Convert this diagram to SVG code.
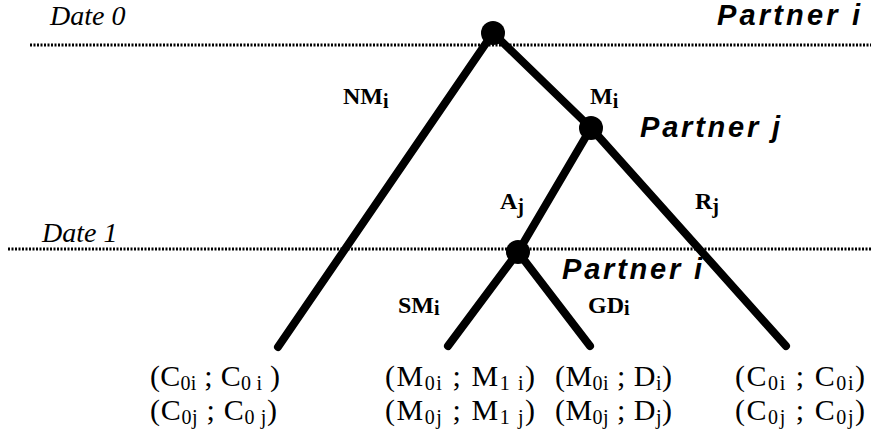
<svg xmlns="http://www.w3.org/2000/svg" width="871" height="439" viewBox="0 0 871 439">
<style>
.date{font-family:"Liberation Serif",serif;font-style:italic;font-size:28px;fill:#000}
.partner{font-family:"Liberation Sans",sans-serif;font-style:italic;font-weight:bold;font-size:29px;fill:#000}
.lab{font-family:"Liberation Serif",serif;font-weight:bold;font-size:24px;fill:#000}
.pay{font-family:"Liberation Serif",serif;font-size:30px;fill:#000}
.sub{font-size:20px}
.edge{stroke:#000;stroke-width:8;stroke-linecap:round;fill:none}
.dot{stroke:#000;stroke-width:3;stroke-dasharray:2 1.5;fill:none}
.node{fill:#000}
</style>
<rect width="871" height="439" fill="#fff"/>
<g id="timeline">
<line class="dot" x1="30" y1="45" x2="871" y2="45"/>
<line class="dot" x1="8" y1="249" x2="871" y2="249"/>
<text class="date" x="50" y="25">Date 0</text>
<text class="date" x="42" y="242">Date 1</text>
</g>
<g id="connectors">
<line class="edge" x1="493" y1="33" x2="278" y2="347"/>
<line class="edge" x1="493" y1="33" x2="591" y2="128"/>
<line class="edge" x1="591" y1="128" x2="786" y2="346"/>
<line class="edge" x1="591" y1="128" x2="518" y2="252"/>
<line class="edge" x1="518" y1="252" x2="448" y2="346"/>
<line class="edge" x1="518" y1="252" x2="590" y2="346"/>
<text class="lab" x="343" y="104">NM<tspan class="sub" dy="4">i</tspan></text>
<text class="lab" x="590" y="104">M<tspan class="sub" dy="4">i</tspan></text>
<text class="lab" x="500" y="209">A<tspan class="sub" dy="4">j</tspan></text>
<text class="lab" x="695" y="209">R<tspan class="sub" dy="4">j</tspan></text>
<text class="lab" x="398" y="313">SM<tspan class="sub" dy="2">i</tspan></text>
<text class="lab" x="588" y="313">GD<tspan class="sub" dy="2">i</tspan></text>
</g>
<g id="node-root">
<circle class="node" cx="493" cy="33" r="12"/>
<text class="partner" x="717" y="25" textLength="143" lengthAdjust="spacing">Partner i</text>
</g>
<g id="node-j">
<circle class="node" cx="591" cy="128" r="12"/>
<text class="partner" x="640" y="137" textLength="140" lengthAdjust="spacing">Partner j</text>
</g>
<g id="node-i2">
<circle class="node" cx="518" cy="252" r="12"/>
<text class="partner" x="562" y="279" textLength="140" lengthAdjust="spacing">Partner i</text>
</g>
<g id="leaf-NM">
<text class="pay" x="150" y="386" textLength="130" lengthAdjust="spacing">(C<tspan class="sub" dy="4">0i</tspan><tspan dy="-4"> ; C</tspan><tspan class="sub" dy="4">0 i</tspan><tspan dy="-4"> )</tspan></text>
<text class="pay" x="150" y="420" textLength="127" lengthAdjust="spacing">(C<tspan class="sub" dy="4">0j</tspan><tspan dy="-4"> ; C</tspan><tspan class="sub" dy="4">0 j</tspan><tspan dy="-4">)</tspan></text>
</g>
<g id="leaf-SM">
<text class="pay" x="385" y="386" textLength="150" lengthAdjust="spacing">(M<tspan class="sub" dy="4">0i</tspan><tspan dy="-4"> ; M</tspan><tspan class="sub" dy="4">1 i</tspan><tspan dy="-4">)</tspan></text>
<text class="pay" x="385" y="420" textLength="150" lengthAdjust="spacing">(M<tspan class="sub" dy="4">0j</tspan><tspan dy="-4"> ; M</tspan><tspan class="sub" dy="4">1 j</tspan><tspan dy="-4">)</tspan></text>
</g>
<g id="leaf-GD">
<text class="pay" x="555" y="386" textLength="117" lengthAdjust="spacing">(M<tspan class="sub" dy="4">0i</tspan><tspan dy="-4">  ; D</tspan><tspan class="sub" dy="4">i</tspan><tspan dy="-4">)</tspan></text>
<text class="pay" x="555" y="420" textLength="117" lengthAdjust="spacing">(M<tspan class="sub" dy="4">0j</tspan><tspan dy="-4">  ; D</tspan><tspan class="sub" dy="4">j</tspan><tspan dy="-4">)</tspan></text>
</g>
<g id="leaf-R">
<text class="pay" x="735" y="386" textLength="130" lengthAdjust="spacing">(C<tspan class="sub" dy="4">0i</tspan><tspan dy="-4"> ; C</tspan><tspan class="sub" dy="4">0i</tspan><tspan dy="-4">)</tspan></text>
<text class="pay" x="735" y="420" textLength="130" lengthAdjust="spacing">(C<tspan class="sub" dy="4">0j</tspan><tspan dy="-4"> ; C</tspan><tspan class="sub" dy="4">0j</tspan><tspan dy="-4">)</tspan></text>
</g>
</svg>
